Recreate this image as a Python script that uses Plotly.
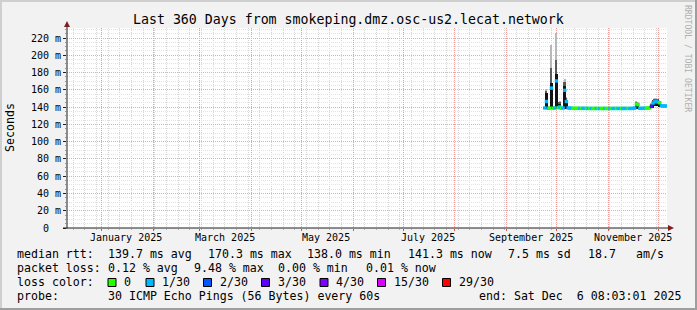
import plotly.graph_objects as go
import pandas as pd

W, H = 697, 310
L, R, T, B = 67, 30, 28, 82
PW, PH = W - L - R, H - T - B  # 600 x 200

range_start = "2024-12-11 08:03:01"
range_end = "2025-12-06 08:03:01"
y_top = 0.2316

# ---------------- data ----------------
sample_days = pd.date_range("2025-09-24", periods=74, freq="D")

median_ms = [
    139.0, 146.5, 138.6, 138.8, 162.0, 138.7, 139.0, 170.3, 139.2, 140.2,
    138.7, 139.0, 159.4, 146.5, 139.0, 138.8, 138.7, 138.6, 138.5, 138.6,
    138.5, 138.6, 138.5, 138.6, 138.5, 138.6, 138.5, 138.4, 138.5, 138.4,
    138.5, 138.4, 138.5, 138.4, 138.5, 138.4, 138.5, 138.4, 138.5, 138.4,
    138.5, 138.4, 138.5, 138.4, 138.5, 138.4, 138.5, 138.4, 138.5, 138.4,
    138.5, 138.4, 138.5, 138.6, 138.8, 143.5, 142.8, 138.6, 138.5, 138.6,
    138.7, 138.8, 138.9, 139.2, 140.8, 144.7, 146.2, 146.6, 145.8, 145.0,
    141.5, 141.3, 141.3, 141.3,
]
loss_n = [
    1, 1, 1, 0, 1, 0, 1, 1, 0, 1,
    0, 1, 1, 1, 1, 1, 1, 0, 0, 0,
    0, 1, 0, 1, 1, 0, 1, 0, 1, 0,
    0, 1, 0, 1, 0, 0, 1, 0, 0, 1,
    0, 1, 1, 0, 1, 1, 0, 1, 1, 1,
    0, 1, 1, 1, 1, 0, 0, 1, 1, 1,
    1, 0, 0, 0, 3, 1, 1, 1, 1, 0,
    1, 1, 1, 1,
]
smoke_lo_ms = [
    138.2, 138.0, 137.8, 138.0, 138.0, 137.9, 138.2, 138.0, 138.4, 138.0,
    137.9, 138.2, 138.0, 138.0, 138.2, 138.0, 137.9, 137.8, 137.7, 137.8,
    137.7, 137.8, 137.7, 137.8, 137.7, 137.8, 137.7, 137.6, 137.7, 137.6,
    137.7, 137.6, 137.7, 137.6, 137.7, 137.6, 137.7, 137.6, 137.7, 137.6,
    137.7, 137.6, 137.7, 137.6, 137.7, 137.6, 137.7, 137.6, 137.7, 137.6,
    137.7, 137.6, 137.7, 137.8, 138.0, 138.2, 138.0, 137.8, 137.7, 137.8,
    137.9, 138.0, 138.1, 138.4, 138.6, 139.5, 141.0, 141.5, 141.0, 140.2,
    140.7, 140.5, 140.5, 140.5,
]
smoke_dark_ms = [
    139.8, 156.0, 139.4, 139.6, 168.0, 139.5, 139.8, 178.0, 140.0, 144.0,
    139.5, 139.8, 165.0, 148.5, 139.8, 139.6, 139.5, 139.4, 139.3, 139.4,
    139.3, 139.4, 139.3, 139.4, 139.3, 139.4, 139.3, 139.2, 139.3, 139.2,
    139.3, 139.2, 139.3, 139.2, 139.3, 139.2, 139.3, 139.2, 139.3, 139.2,
    139.3, 139.2, 139.3, 139.2, 139.3, 139.2, 139.3, 139.2, 139.3, 139.2,
    139.3, 139.2, 139.3, 139.4, 139.6, 145.0, 144.0, 139.4, 139.3, 139.4,
    139.5, 139.6, 139.7, 140.0, 143.0, 147.0, 148.5, 148.5, 148.0, 146.0,
    142.3, 142.1, 142.1, 142.1,
]
smoke_mid_ms = [
    139.9, 159.0, 139.5, 139.7, 185.0, 139.6, 139.9, 195.0, 140.1, 145.5,
    139.6, 139.9, 169.0, 150.0, 139.9, 139.7, 139.6, 139.5, 139.4, 139.5,
    139.4, 139.5, 139.4, 139.5, 139.4, 139.5, 139.4, 139.3, 139.4, 139.3,
    139.4, 139.3, 139.4, 139.3, 139.4, 139.3, 139.4, 139.3, 139.4, 139.3,
    139.4, 139.3, 139.4, 139.3, 139.4, 139.3, 139.4, 139.3, 139.4, 139.3,
    139.4, 139.3, 139.4, 139.5, 139.7, 145.5, 144.5, 139.5, 139.4, 139.5,
    139.6, 139.7, 139.8, 140.1, 143.5, 147.5, 149.0, 149.0, 148.5, 146.5,
    142.4, 142.2, 142.2, 142.2,
]
smoke_max_ms = [
    140.0, 161.0, 139.6, 139.8, 212.0, 139.7, 140.0, 226.0, 140.2, 147.0,
    139.7, 140.0, 172.0, 151.0, 140.0, 139.8, 139.7, 139.6, 139.5, 139.6,
    139.5, 139.6, 139.5, 139.6, 139.5, 139.6, 139.5, 139.4, 139.5, 139.4,
    139.5, 139.4, 139.5, 139.4, 139.5, 139.4, 139.5, 139.4, 139.5, 139.4,
    139.5, 139.4, 139.5, 139.4, 139.5, 139.4, 139.5, 139.4, 139.5, 139.4,
    139.5, 139.4, 139.5, 139.6, 139.8, 146.0, 145.0, 139.6, 139.5, 139.6,
    139.7, 139.8, 139.9, 140.2, 144.0, 148.0, 149.5, 149.5, 149.0, 147.0,
    142.5, 142.3, 142.3, 142.3,
]

loss_levels = [0, 1, 2, 3, 4, 15, 29]
loss_labels = ["0", "1/30", "2/30", "3/30", "4/30", "15/30", "29/30"]
loss_colors = ["#26ff00", "#00b8ff", "#0059ff", "#5e00ff", "#7e00ff", "#dd00ff", "#ff0000"]

y_tick_vals = [0.00, 0.02, 0.04, 0.06, 0.08, 0.10, 0.12, 0.14, 0.16, 0.18, 0.20, 0.22]
y_tick_text = ["0\u00a0\u00a0", "20 m", "40 m", "60 m", "80 m", "100 m", "120 m",
               "140 m", "160 m", "180 m", "200 m", "220 m"]
x_label_dates = ["2025-01-16", "2025-03-16", "2025-05-16", "2025-07-16", "2025-09-16", "2025-11-16"]
x_label_text = ["January 2025", "March 2025", "May 2025", "July 2025", "September 2025", "November 2025"]

title_text = "Last 360 Days from smokeping.dmz.osc-us2.lecat.network"
rtt_parts = [("median rtt:", 16), ("139.7 ms avg", 107.3), ("170.3 ms max", 207.3),
             ("138.0 ms min", 306), ("141.3 ms now", 407.3), ("7.5 ms sd", 506.7),
             ("18.7", 586.7), ("am/s", 635)]
loss_parts = [("packet loss:", 16), ("0.12 % avg", 107.3), ("9.48 % max", 193.3),
              ("0.00 % min", 277.3), ("0.01 % now", 365)]
legend_box_x = [108, 146, 203.5, 261.5, 320, 377.5, 442.5]
probe_parts = [("probe:", 16), ("30 ICMP Echo Pings (56 Bytes) every 60s", 107.3),
               ("end: Sat Dec\u00a0\u00a06 08:03:01 2025", 478.3)]

# ---------------- helpers ----------------
MONO = "DejaVu Sans Mono"


def px(xpix):
    return (xpix - L) / PW


def py(ypix):
    return (T + PH - ypix) / PH


s = lambda arr: [v / 1000.0 for v in arr]
color_of = dict(zip(loss_levels, loss_colors))

fig = go.Figure()
day_ms = 86400000

lo = s(smoke_lo_ms)
dk = s(smoke_dark_ms)
md = s(smoke_mid_ms)
mx = s(smoke_max_ms)

fig.add_trace(go.Bar(x=sample_days, base=md, y=[b - a for a, b in zip(md, mx)], width=0.7 * day_ms,
                     marker=dict(color="#b8b8b8", line=dict(width=0)), showlegend=False))
fig.add_trace(go.Bar(x=sample_days, base=dk, y=[b - a for a, b in zip(dk, md)], width=1.0 * day_ms,
                     marker=dict(color="#5a5a5a", line=dict(width=0)), showlegend=False))
fig.add_trace(go.Bar(x=sample_days, base=lo, y=[b - a for a, b in zip(lo, dk)], width=1.6 * day_ms,
                     marker=dict(color="#141414", line=dict(width=0)), showlegend=False))
fig.add_trace(go.Scatter(x=sample_days, y=s(median_ms), mode="markers",
                         marker=dict(symbol="square", size=3.4,
                                     color=[color_of[n] for n in loss_n], line=dict(width=0)),
                         showlegend=False))
# empty trace so that the overlay grid axes exist
fig.add_trace(go.Scatter(x=[], y=[], xaxis="x2", yaxis="y2", showlegend=False, hoverinfo="skip"))

month_starts = pd.date_range("2025-01-01", "2025-12-01", freq="MS").strftime("%Y-%m-%d").tolist()
sundays = pd.date_range("2024-12-15", "2025-12-06", freq="7D").strftime("%Y-%m-%d").tolist()
minor_y = [v / 1000.0 for v in range(5, 231, 5) if v % 20 != 0]

GRID_MINOR_X = "#d6d6d6"
GRID_MINOR_Y = "#e2e2e2"
GRID_MAJOR = "#f2a6a6"
DASH = "1px,1px"

fig.update_layout(
    width=W, height=H, margin=dict(l=L, r=R, t=T, b=B, pad=0),
    paper_bgcolor="#f2f2f2", plot_bgcolor="#ffffff",
    barmode="overlay", bargap=0, showlegend=False,
    font=dict(family=MONO, size=10, color="#000000"),
    # weekly grey grid
    xaxis=dict(type="date", range=[range_start, range_end], tickmode="array",
               tickvals=sundays, showticklabels=False, showgrid=True, gridcolor=GRID_MINOR_X,
               griddash=DASH, gridwidth=1, ticks="outside", ticklen=1, tickcolor="#b0b0b0",
               showline=False, zeroline=False),
    # monthly red grid
    xaxis2=dict(type="date", range=[range_start, range_end], overlaying="x", anchor="y",
                side="bottom", tickmode="array", tickvals=month_starts, showticklabels=False,
                showgrid=True, gridcolor="#f09a9a", griddash=DASH, gridwidth=1.4,
                ticks="outside", ticklen=2, tickcolor="#de4f4f", showline=False, zeroline=False),
    # 5 ms grey grid
    yaxis=dict(range=[0, y_top], tickmode="array", tickvals=minor_y, showticklabels=False,
               showgrid=True, gridcolor=GRID_MINOR_Y, griddash=DASH, gridwidth=1,
               ticks="outside", ticklen=1, tickcolor="#999999", showline=False, zeroline=False),
    # 20 ms red grid + labels
    yaxis2=dict(range=[0, y_top], overlaying="y", anchor="x", side="left", tickmode="array",
                tickvals=y_tick_vals, ticktext=y_tick_text, showgrid=True, gridcolor=GRID_MAJOR,
                griddash=DASH, gridwidth=1, ticks="outside", ticklen=3, tickcolor="#1f1f1f",
                showline=False, zeroline=False, tickfont=dict(family=MONO, size=10)),
)

shapes = []
# frame shading
shapes.append(dict(type="line", xref="paper", yref="paper", x0=px(0), x1=px(W), y0=py(1), y1=py(1),
                   line=dict(color="#cfcfcf", width=2)))
shapes.append(dict(type="line", xref="paper", yref="paper", x0=px(1), x1=px(1), y0=py(0), y1=py(H),
                   line=dict(color="#cfcfcf", width=2)))
shapes.append(dict(type="line", xref="paper", yref="paper", x0=px(0), x1=px(W), y0=py(H - 1), y1=py(H - 1),
                   line=dict(color="#9e9e9e", width=2)))
shapes.append(dict(type="line", xref="paper", yref="paper", x0=px(W - 1), x1=px(W - 1), y0=py(0), y1=py(H),
                   line=dict(color="#9e9e9e", width=2)))
# axes with arrows
shapes.append(dict(type="line", xref="paper", yref="paper", x0=px(67), x1=px(67), y0=py(228.5), y1=py(25),
                   line=dict(color="#1f1f1f", width=1), layer="above"))
shapes.append(dict(type="line", xref="paper", yref="paper", x0=px(63), x1=px(669), y0=py(228), y1=py(228),
                   line=dict(color="#1f1f1f", width=1), layer="above"))
shapes.append(dict(type="path", xref="paper", yref="paper",
                   path=f"M {px(67)},{py(21)} L {px(64)},{py(27)} L {px(70)},{py(27)} Z",
                   fillcolor="#801f1f", line=dict(width=0), layer="above"))
shapes.append(dict(type="path", xref="paper", yref="paper",
                   path=f"M {px(674)},{py(228)} L {px(668)},{py(225)} L {px(668)},{py(231)} Z",
                   fillcolor="#801f1f", line=dict(width=0), layer="above"))
# loss color swatches
for bx, col in zip(legend_box_x, loss_colors):
    shapes.append(dict(type="rect", xref="paper", yref="paper", x0=px(bx), x1=px(bx + 8),
                       y0=py(278.5), y1=py(286.5), fillcolor=col, line=dict(color="#000000", width=1)))
fig.update_layout(shapes=shapes)

ann = []


def text(x, y, t, size=11.6, anchor="left", color="#000000", angle=0):
    ann.append(dict(xref="paper", yref="paper", x=px(x), y=py(y), text=t, showarrow=False,
                    xanchor=anchor, yanchor="middle", textangle=angle,
                    font=dict(family=MONO, size=size, color=color), borderpad=0))


text(348.5, 19.5, title_text, size=13.25, anchor="center")
text(10, 128, "Seconds", anchor="center", angle=-90)
text(687.5, 58.5, "RRDTOOL / TOBI OETIKER", size=8.1, anchor="center", color="#b0b0b0", angle=90)
for t, x in rtt_parts:
    text(x, 254.3, t)
for t, x in loss_parts:
    text(x, 268.3, t)
text(16, 282.3, "loss color:")
for bx, lab in zip(legend_box_x, loss_labels):
    text(bx + 15, 282.3, lab)
for t, x in probe_parts:
    text(x, 296.3, t)
for d, lab in zip(x_label_dates, x_label_text):
    ann.append(dict(xref="x", yref="paper", x=d, y=py(237.7), text=lab, showarrow=False,
                    xanchor="center", yanchor="middle", font=dict(family=MONO, size=10),
                    borderpad=0))
fig.update_layout(annotations=ann)

fig.write_html("out.html")
